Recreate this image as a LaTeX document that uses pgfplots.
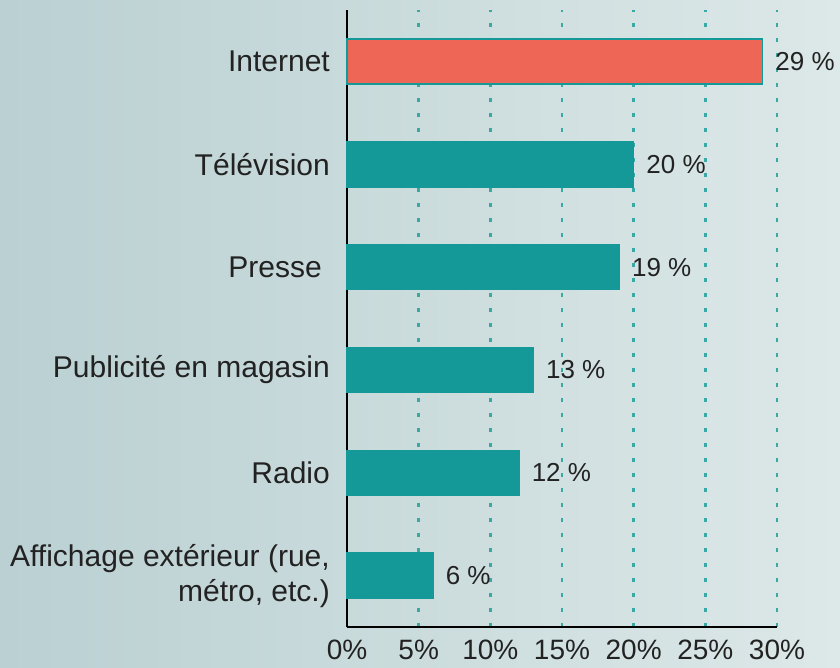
\documentclass[border=0pt]{standalone}
\usepackage{fontspec}
\setmainfont{Liberation Sans}
\usepackage{pgfplots}
\pgfplotsset{compat=1.18}
\definecolor{bgL}{RGB}{186,208,210}
\definecolor{bgR}{RGB}{221,232,232}
\definecolor{tealbar}{RGB}{20,153,152}
\definecolor{redbar}{RGB}{238,102,86}
\definecolor{gridc}{RGB}{58,168,165}
\definecolor{txt}{RGB}{34,34,34}
\begin{document}
\begin{tikzpicture}
\useasboundingbox (0,0) rectangle (840pt,667pt);
\shade[left color=bgL, right color=bgR] (0,0) rectangle (840pt,667pt);
\begin{axis}[
  at={(347pt,40pt)}, anchor=south west,
  scale only axis, width=430pt, height=617pt,
  xmin=0, xmax=30, ymin=-0.5, ymax=5.5,
  clip=false,
  /pgf/number format/assume math mode=true,
  axis x line=bottom, axis y line=left,
  axis line style={-, line width=2pt, black},
  major tick length=0pt,
  xtick={0,5,...,30},
  xticklabel={\pgfmathprintnumber{\tick}\%},
  xticklabel style={font=\fontsize{28}{32}\selectfont, text=txt, anchor=north, inner sep=0pt, yshift=-13pt},
  ytick={0,1,2,3,4,5},
  yticklabels={{Affichage extérieur (rue,\\métro, etc.)},Radio,Publicité en magasin,Presse\kern8pt,Télévision,Internet},
  yticklabel style={font=\fontsize{30}{35}\selectfont, text=txt, anchor=east, align=right, inner sep=0pt, xshift=-17pt},
  xmajorgrids, ymajorgrids=false,
  major grid style={gridc, line width=2.5pt, dash pattern=on 4pt off 11pt},
  axis on top=false,
  nodes near coords={\pgfmathprintnumber{\pgfplotspointmeta}\ \%},
  point meta=x,
  every node near coord/.style={font=\fontsize{26}{30}\selectfont, text=txt, anchor=west, inner sep=0pt, xshift=12pt},
]
\addplot[xbar, bar shift=0pt, bar width=45pt, fill=tealbar, draw=tealbar, line width=1.5pt]
  coordinates {(6,0) (12,1) (13,2) (19,3) (20,4)};
\addplot[xbar, bar shift=0pt, bar width=45pt, fill=redbar, draw=tealbar, line width=1.5pt]
  coordinates {(29,5)};
\end{axis}
\end{tikzpicture}
\end{document}
